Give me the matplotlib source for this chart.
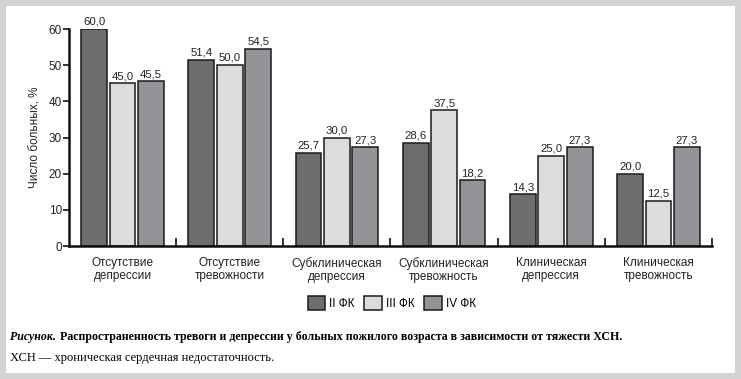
import matplotlib
matplotlib.use("Agg")
import matplotlib.pyplot as plt
from matplotlib.patches import Rectangle
import numpy as np

plt.rcParams['font.family'] = ['Liberation Sans', 'DejaVu Sans']

categories = ["Отсутствие\nдепрессии", "Отсутствие\nтревожности", "Субклиническая\nдепрессия",
              "Субклиническая\nтревожность", "Клиническая\nдепрессия", "Клиническая\nтревожность"]
series_names = ["II ФК", "III ФК", "IV ФК"]
fk2 = [60.0, 51.4, 25.7, 28.6, 14.3, 20.0]
fk3 = [45.0, 50.0, 30.0, 37.5, 25.0, 12.5]
fk4 = [45.5, 54.5, 27.3, 18.2, 27.3, 27.3]
yticks = [0, 10, 20, 30, 40, 50, 60]
ylabel = "Число больных, %"
caption_bi = "Рисунок."
caption_b = "Распространенность тревоги и депрессии у больных пожилого возраста в зависимости от тяжести ХСН."
caption2 = "ХСН — хроническая сердечная недостаточность."

colors = ["#6d6d6f", "#dcdcdd", "#939497"]

W, H = 741, 379
fig = plt.figure(figsize=(W/100, H/100), dpi=100)
# frame
fig.patches.append(Rectangle((0, 0), 1, 1, transform=fig.transFigure, facecolor="#d3d3d3", edgecolor="none", zorder=-10))
fig.patches.append(Rectangle((6/W, 6/H), 1-12/W, 1-12/H, transform=fig.transFigure, facecolor="white", edgecolor="none", zorder=-9))

ax = fig.add_axes([69/W, 1-246/H, (712-69)/W, (246-29)/H])
ax.set_facecolor("none")
x = np.arange(len(categories))
w = 0.24
offs = [-0.265, 0.0, 0.265]
bars = []
for vals, c, o, name in zip([fk2, fk3, fk4], colors, offs, series_names):
    b = ax.bar(x + o, vals, width=w, color=c, edgecolor="#1a1a1a", linewidth=1.1, label=name, zorder=2)
    bars.append(b)
    for xi, v in zip(x + o, vals):
        ax.text(xi, v + 0.6, f"{v:.1f}".replace(".", ","), ha="center", va="bottom", fontsize=8.2, color="#222222")

ax.set_xlim(-0.5, len(categories) - 0.5)
ax.set_ylim(0, 60)
ax.set_yticks(yticks)
ax.set_yticklabels([str(t) for t in yticks], fontsize=8.5, color="#222222")
ax.set_xticks(x)
ax.set_xticklabels(categories, fontsize=8.5, color="#222222", linespacing=1.1)
ax.tick_params(axis="x", length=0, pad=8)
ax.set_xticks(np.arange(len(categories)) + 0.5, minor=True)
ax.tick_params(axis="x", which="minor", direction="in", length=6, width=1.2, color="#111111")
ax.tick_params(axis="y", direction="out", length=4, width=1.2, color="#111111", pad=1)
for s in ["top", "right"]:
    ax.spines[s].set_visible(False)
for s in ["left", "bottom"]:
    ax.spines[s].set_linewidth(1.8)
    ax.spines[s].set_color("#111111")
ax.spines["bottom"].set_bounds(-0.5, len(categories) - 0.5)
ax.set_ylabel(ylabel, fontsize=8.5, color="#222222", labelpad=5)

fig.legend(handles=bars, labels=series_names, loc="center", bbox_to_anchor=(392/W, 1-303/H),
           ncol=3, frameon=False, fontsize=8.5, handlelength=1.45, handleheight=1.45,
           handletextpad=0.4, columnspacing=0.8)

t1 = fig.text(10/W, 1-337/H, caption_bi, family=["Liberation Serif"], fontsize=8.6,
              fontweight="bold", fontstyle="italic", va="center", ha="left")
fig.canvas.draw()
bb = t1.get_window_extent()
fig.text((bb.x1 + 4)/W, 1-337/H, caption_b, family=["Liberation Serif"], fontsize=8.6,
         fontweight="bold", va="center", ha="left")
fig.text(10/W, 1-358/H, caption2, family=["Liberation Serif"], fontsize=9, va="center", ha="left")

fig.savefig("out.png", dpi=100)
